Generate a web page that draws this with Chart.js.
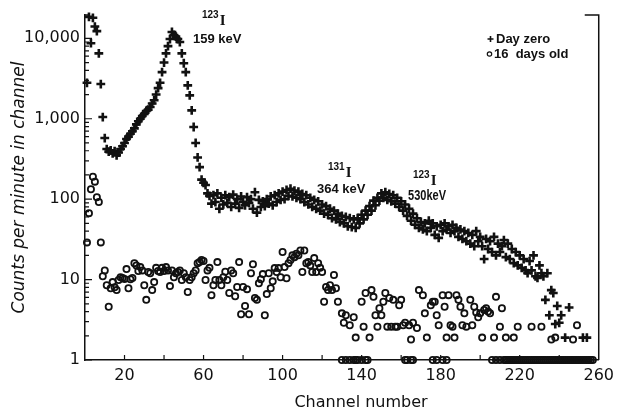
<!DOCTYPE html>
<html>
<head>
<meta charset="utf-8">
<script src="https://cdn.jsdelivr.net/npm/chart.js@4.4.1/dist/chart.umd.min.js"></script>
<style>
  html, body { margin: 0; background: #fff; }
</style>
</head>
<body>
<canvas id="chart" width="620" height="415"></canvas>
<script>
// --- DATA (counts per minute, one entry per channel, starting at channel 1) ---
const dayZero = [
  2800, 18500, 8700, 18000, 14000, 12300, 6500, 2700, 1050, 575,
  420, 390, 405, 370, 395, 350, 380, 420, 455, 500,
  560, 600, 650, 700, 760, 850, 930, 1000, 1080, 1150,
  1250, 1300, 1400, 1550, 1700, 2000, 2400, 2800, 3800, 5000,
  6500, 8000, 9800, 12000, 11000, 10500, 9800, 9000, 6500, 4900,
  3800, 2600, 1950, 1270, 790, 500, 330, 250, 175, 160,
  150, 118, 110, 88, 112, 92, 118, 76, 104, 86,
  112, 90, 106, 80, 114, 88, 100, 78, 108, 92,
  84, 106, 90, 100, 76, 122, 68, 98, 80, 94,
  82, 100, 88, 108, 84, 112, 92, 118, 98, 124,
  100, 130, 110, 135, 108, 128, 104, 124, 100, 116,
  92, 112, 86, 104, 80, 98, 76, 94, 72, 86,
  66, 82, 64, 76, 58, 72, 56, 66, 52, 62,
  50, 60, 46, 58, 45, 56, 44, 58, 50, 64,
  56, 72, 64, 82, 72, 96, 84, 104, 96, 118,
  104, 122, 98, 116, 94, 112, 88, 104, 80, 94,
  72, 86, 62, 76, 54, 66, 48, 58, 44, 52,
  42, 50, 40, 54, 44, 50, 36, 46, 33, 48,
  40, 50, 42, 46, 38, 48, 40, 44, 34, 42,
  32, 40, 30, 38, 28, 36, 26, 40, 30, 34,
  26, 18, 32, 24, 30, 22, 34, 20, 28, 22,
  26, 31, 19, 28, 18, 24, 16, 22, 15, 20,
  14, 18, 13, 12, 17, 13, 20, 11, 10.5, 15,
  12, 11, 5.6, 12, 3.6, 7.4, 6.8, 2.8, 4.7, 2.9,
  3.6, null, 1.9, null, 4.5, null, null, null, null, null,
  null, 1.9, null, 1.9
];

const sixteenDays = [
  29, 67, 133, 190, 165, 106, 92, 29, 11, 13,
  8.5, 4.6, 7.8, 9.3, 8, 7.4, 9.9, 10.7, 10.5, 10.2,
  13.5, 7.8, 10.1, 10.5, 16, 15, 12.8, 14.3, 13, 8.5,
  5.6, 12.4, 12, 7.4, 9.3, 14, 12.8, 12.4, 14, 12.8,
  14.3, 13, 8.3, 13, 10.7, 12, 12.4, 13, 9.9, 12,
  10.7, 7, 9.9, 10.7, 12, 13, 16, 16.5, 17.5, 17,
  9.9, 13, 14, 6.4, 8.5, 9.9, 16.5, 9.9, 8.5, 10.7,
  12.5, 9.9, 6.8, 13, 12, 6.2, 8.1, 16.5, 3.7, 8.1,
  4.7, 7.6, 3.7, 12, 15.5, 5.9, 5.6, 9, 10.1, 11.7,
  3.6, 6.6, 12, 7.8, 9.5, 13.9, 12.4, 13.9, 10.7, 22,
  14.3, 10.4, 16, 17.5, 20, 19, 21, 20, 23, 12.4,
  23, 16, 16.5, 15, 12.4, 18.5, 12.4, 16, 14, 12.4,
  5.3, 8.1, 7.4, 8.5, 7.4, 11.4, 7.8, 5.3, null, 3.8,
  2.9, 3.6, null, 2.7, null, 3.4, 1.9, null, null, 5.3,
  2.6, 6.8, null, 1.9, 7.4, 6.1, 3.6, 2.6, 4.4, 3.6,
  5.3, 6.8, 2.6, 5.9, 2.6, 5.6, 2.6, 2.6, 4.8, 5.6,
  2.7, 2.9, null, 2.7, 1.8, 2.9, null, 2.5, 7.4, null,
  6.4, 3.8, 1.9, null, 4.8, 5.3, 5.3, 3.6, 2.7, null,
  6.4, 4.6, 1.9, 6.4, 2.7, 2.6, 1.9, 6.4, 5.6, 4.6,
  2.7, 3.8, 2.6, null, 5.6, 2.7, 4.6, 3.9, 3.4, 3.8,
  1.9, 4.2, 4.4, 4.0, 3.8, null, 1.9, 6.1, null, 2.6,
  4.4, null, 1.9, null, null, null, 1.9, null, 2.6, null,
  null, null, null, null, null, 2.6, null, null, null, null,
  2.6, null, null, null, null, 1.8, null, 1.9, null, null,
  null, null, null, null, null, null, 1.8, null, 2.7
];

// channels of the 16-day spectrum with no counts (plotted on the bottom line)
const sixteenDaysEmpty = [
  130, 132, 134, 136, 137, 138, 140, 142, 143,
  162, 163, 165, 166, 176, 178, 181, 183, 206, 208, 210,
  212, 213, 214, 215, 216, 217, 218, 219, 220, 221, 222, 223, 224, 225, 226,
  227, 228, 229, 230, 231, 232, 233, 234, 235, 236, 237, 238, 239, 240, 241,
  242, 243, 244, 245, 246, 247, 248, 249, 250, 251, 252, 253, 254, 255, 256, 257
];

const xLabels = [20, 60, 100, 140, 180, 220, 260];
const yLabels = [1, 10, 100, 1000, 10000];

const ink = '#111';
const font = '"DejaVu Sans", sans-serif';
const labelFont = '"Liberation Sans", Arial, sans-serif';

function toPoints(arr) {
  return arr.map((v, i) => ({ x: i + 1, y: v })).filter(p => p.y !== null);
}

// inward ticks, right frame line, x title, peak labels, legend
const decorations = {
  id: 'decorations',
  afterDraw(chart) {
    const { ctx, chartArea: a, scales: { x, y } } = chart;
    ctx.save();
    ctx.strokeStyle = ink;
    ctx.fillStyle = ink;
    ctx.lineWidth = 1.5;

    // frame: right side and short hooks on top
    ctx.beginPath();
    ctx.moveTo(a.right - 14, a.top); ctx.lineTo(a.right, a.top); ctx.lineTo(a.right, a.bottom);
    ctx.moveTo(a.left, a.top); ctx.lineTo(a.left + 5, a.top);
    ctx.stroke();

    // x ticks every 20 channels, pointing up
    ctx.lineWidth = 1.2;
    ctx.beginPath();
    for (let c = 20; c < 260; c += 20) {
      const px = x.getPixelForValue(c);
      ctx.moveTo(px, a.bottom); ctx.lineTo(px, a.bottom - 5);
    }
    // y log ticks, pointing right
    for (let d = 0; d <= 4; d++) {
      for (let m = 1; m <= 9; m++) {
        const v = m * Math.pow(10, d);
        if (v > y.max) break;
        const py = y.getPixelForValue(v);
        ctx.moveTo(a.left, py); ctx.lineTo(a.left + (m === 1 ? 7 : 4), py);
      }
    }
    ctx.stroke();

    // x axis title
    ctx.font = '16px ' + font;
    ctx.textAlign = 'center';
    ctx.textBaseline = 'middle';
    ctx.fillText('Channel number', 361, 403);

    // peak labels
    function peak(iso, energy, xi, yi, xe, ye, size, maxW) {
      ctx.textAlign = 'left';
      ctx.textBaseline = 'alphabetic';
      ctx.font = 'bold 10px ' + labelFont;
      ctx.fillText(iso, xi, yi);
      const w = ctx.measureText(iso).width;
      ctx.font = 'bold 15px "Liberation Serif", serif';
      ctx.fillText('I', xi + w + 1, yi + 7);
      ctx.font = 'bold ' + size + 'px ' + labelFont;
      ctx.fillText(energy, xe, ye, maxW);
    }
    peak('123', '159 keV', 202, 18, 193, 43, 13, 52);
    peak('131', '364 keV', 328, 170, 317, 193, 13, 52);
    peak('123', '530keV', 413, 178, 408, 200, 14, 38);

    // legend
    ctx.font = 'bold 13px ' + labelFont;
    ctx.textAlign = 'left';
    ctx.textBaseline = 'middle';
    ctx.fillText('Day zero', 496, 39);
    ctx.fillText('16  days old', 494, 54);
    ctx.lineWidth = 1.6;
    ctx.beginPath();
    ctx.moveTo(487.5, 39); ctx.lineTo(493.5, 39);
    ctx.moveTo(490.5, 36); ctx.lineTo(490.5, 42);
    ctx.stroke();
    ctx.lineWidth = 1.2;
    ctx.beginPath();
    ctx.arc(489.5, 54, 2.2, 0, Math.PI * 2);
    ctx.stroke();
    ctx.restore();
  }
};

const plusStyle = {
  pointStyle: 'cross', pointRadius: 4.4, borderWidth: 2.6,
  borderColor: ink, backgroundColor: ink, clip: false
};
const ringStyle = {
  pointStyle: 'circle', pointRadius: 3.1, borderWidth: 1.8,
  borderColor: ink, backgroundColor: 'rgba(255,255,255,0)', clip: false
};

new Chart(document.getElementById('chart'), {
  type: 'scatter',
  data: {
    datasets: [
      { label: 'Day zero', data: toPoints(dayZero), ...plusStyle },
      { label: '16 days old', data: toPoints(sixteenDays), ...ringStyle },
      { label: '16 days old, empty', data: sixteenDaysEmpty.map(c => ({ x: c, y: 1 })), ...ringStyle }
    ]
  },
  options: {
    responsive: false,
    animation: false,
    devicePixelRatio: 1,
    layout: { padding: { top: 15, right: 16, left: 0, bottom: 0 } },
    plugins: { legend: { display: false }, tooltip: { enabled: false } },
    scales: {
      x: {
        type: 'linear', min: 0, max: 260,
        afterFit: s => { s.height = 55; },
        grid: { display: true, drawOnChartArea: false, drawTicks: false },
        border: { display: true, color: ink, width: 1.5 },
        ticks: {
          stepSize: 20, autoSkip: false, maxRotation: 0, padding: 6,
          color: ink, font: { family: font, size: 16 },
          callback: v => xLabels.includes(v) ? String(v) : ''
        }
      },
      y: {
        type: 'logarithmic', min: 1, max: 19500,
        afterFit: s => { s.width = 85; },
        grid: { display: true, drawOnChartArea: false, drawTicks: false },
        border: { display: true, color: ink, width: 1.5 },
        ticks: {
          autoSkip: false, padding: 5, color: ink,
          font: { family: font, size: 16 },
          callback: v => yLabels.includes(v) ? v.toLocaleString('en-US') : ''
        },
        title: {
          display: true, text: 'Counts per minute in channel', color: ink,
          font: { family: font, size: 17, style: 'italic' }, padding: { top: 9, bottom: 0 }
        }
      }
    }
  },
  plugins: [decorations]
});
</script>
</body>
</html>
